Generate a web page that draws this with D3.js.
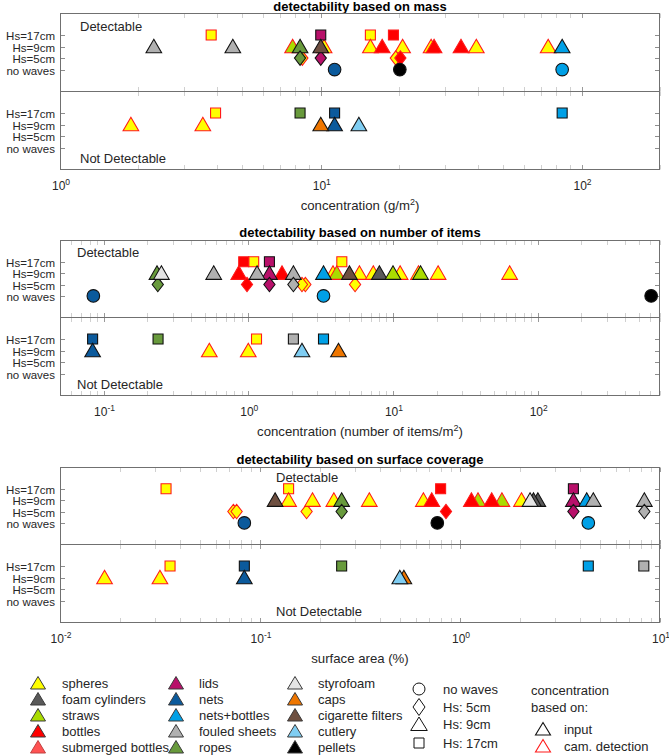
<!DOCTYPE html>
<html><head><meta charset="utf-8">
<script src="https://cdn.jsdelivr.net/npm/d3@7"></script>
<style>body{margin:0;background:#fff} svg{display:block;font-family:"Liberation Sans",Arial,Helvetica,sans-serif}</style>
</head><body><svg id="c" width="669" height="755"></svg>
<script>
// ---------- categories ----------
const materials = ["spheres","foam cylinders","straws","bottles","submerged bottles",
  "lids","nets","nets+bottles","fouled sheets","ropes",
  "styrofoam","caps","cigarette filters","cutlery","pellets"];
const materialColors = ["#ffff00","#595959","#aadc00","#ff0000","#ff5252",
  "#b8106a","#0b5a9c","#00a0e6","#b0b0b0","#689a3c",
  "#e4e4e4","#ee7600","#6e4f40","#7fcdf2","#000000"];
const waveTicks = ["no waves","Hs=5cm","Hs=9cm","Hs=17cm"];
const waveLegend = ["no waves","Hs: 5cm","Hs: 9cm","Hs: 17cm"];
const sourceLegend = ["input","cam. detection"];
const massTicks = [1,10,100];
const itemTicks = [0.1,1,10,100];
const areaTicks = [0.01,0.1,1,10];

// ---------- data: [material, wave level (0 none,1 5cm,2 9cm,3 17cm), value, source i=input c=camera] ----------
const massDetectable = [
 ["fouled sheets",2,2.29,"i"],["fouled sheets",2,4.60,"i"],["spheres",3,3.80,"c"],
 ["straws",2,7.8,"c"],["spheres",1,8.5,"c"],["ropes",2,8.33,"i"],["ropes",1,8.33,"i"],
 ["spheres",2,10.3,"c"],["lids",3,10,"i"],["cigarette filters",2,10,"i"],["lids",1,10,"i"],
 ["nets",0,11.3,"i"],["spheres",3,15.5,"c"],["spheres",2,15.5,"c"],["bottles",2,17.2,"c"],
 ["bottles",3,19.0,"c"],["spheres",2,20.6,"c"],["spheres",1,19.4,"c"],["bottles",1,20.2,"c"],
 ["pellets",0,20.1,"i"],["spheres",2,26.5,"c"],["bottles",2,27.2,"c"],["bottles",2,34.5,"c"],
 ["spheres",2,39.5,"c"],["spheres",2,74.5,"c"],["nets+bottles",2,84.3,"i"],["nets+bottles",0,84.3,"i"]
];
const massNotDetectable = [
 ["spheres",2,1.87,"c"],["spheres",2,3.53,"c"],["spheres",3,3.95,"c"],["ropes",3,8.33,"i"],
 ["caps",2,10,"i"],["nets",3,11.3,"i"],["nets",2,11.3,"i"],["cutlery",2,14.0,"i"],["nets+bottles",3,84.3,"i"]
];
const itemsDetectable = [
 ["nets",0,0.085,"i"],["ropes",2,0.234,"i"],["styrofoam",2,0.251,"i"],["ropes",1,0.237,"i"],
 ["fouled sheets",2,0.577,"i"],["bottles",3,0.93,"c"],["spheres",3,1.09,"c"],["bottles",2,0.86,"c"],
 ["bottles",1,0.98,"c"],["fouled sheets",2,1.15,"i"],["bottles",2,1.71,"c"],["lids",3,1.40,"i"],
 ["lids",2,1.40,"i"],["lids",1,1.40,"i"],["fouled sheets",2,2.05,"i"],["spheres",1,2.48,"c"],
 ["spheres",1,2.35,"c"],["fouled sheets",1,2.05,"i"],["nets+bottles",0,3.31,"i"],["nets+bottles",2,3.31,"i"],
 ["spheres",2,3.85,"c"],["straws",2,4.09,"c"],["spheres",3,4.43,"c"],["cigarette filters",2,5.0,"i"],
 ["spheres",1,5.47,"c"],["spheres",2,5.86,"c"],["spheres",2,7.31,"c"],["foam cylinders",2,8.05,"i"],
 ["straws",2,10.0,"i"],["spheres",2,11.2,"c"],["spheres",2,15.0,"c"],["straws",2,15.5,"i"],
 ["spheres",2,20.5,"c"],["spheres",2,64,"c"],["pellets",0,608,"i"]
];
const itemsNotDetectable = [
 ["nets",3,0.084,"i"],["nets",2,0.084,"i"],["ropes",3,0.238,"i"],["spheres",2,0.538,"c"],
 ["spheres",2,1.0,"c"],["spheres",3,1.14,"c"],["fouled sheets",3,2.05,"i"],["cutlery",2,2.35,"i"],
 ["nets+bottles",3,3.31,"i"],["caps",2,4.2,"i"]
];
const areaDetectable = [
 ["spheres",3,0.0339,"c"],["spheres",1,0.0736,"c"],["spheres",1,0.0764,"c"],["nets",0,0.0835,"i"],
 ["spheres",3,0.139,"c"],["spheres",2,0.139,"c"],["cigarette filters",2,0.119,"i"],["spheres",1,0.171,"c"],
 ["spheres",2,0.183,"c"],["spheres",2,0.234,"c"],["ropes",2,0.256,"i"],["ropes",1,0.256,"i"],
 ["spheres",2,0.352,"c"],["spheres",2,0.656,"c"],["bottles",2,0.722,"c"],["bottles",3,0.80,"c"],
 ["bottles",1,0.851,"c"],["pellets",0,0.77,"i"],["bottles",2,1.14,"c"],["straws",2,1.23,"c"],
 ["bottles",2,1.44,"c"],["straws",2,1.62,"c"],["spheres",2,2.03,"c"],["foam cylinders",2,2.45,"i"],
 ["foam cylinders",2,2.33,"i"],["styrofoam",2,2.24,"i"],["lids",3,3.69,"i"],["lids",2,3.69,"i"],
 ["lids",1,3.69,"i"],["nets+bottles",2,4.3,"i"],["fouled sheets",2,4.64,"i"],["nets+bottles",0,4.38,"i"],
 ["fouled sheets",2,8.35,"i"],["fouled sheets",1,8.35,"i"]
];
const areaNotDetectable = [
 ["spheres",2,0.0167,"c"],["spheres",2,0.0316,"c"],["spheres",3,0.0355,"c"],["nets",3,0.0835,"i"],
 ["nets",2,0.0835,"i"],["ropes",3,0.256,"i"],["caps",2,0.524,"i"],["cutlery",2,0.50,"i"],
 ["nets+bottles",3,4.38,"i"],["fouled sheets",3,8.3,"i"]
];

// ---------- layout ----------
const svg = d3.select("#c");
const X0 = 60, X1 = 660;
const AX = "#707070", TXT = "#262626";
const panels = [
 {title:"detectability based on mass", xlab:["concentration (g/m","2",")"], dom:[1,200], ticks:massTicks,
  top:13.5, mid:91.5, bot:169.5, det:massDetectable, nd:massNotDetectable, lx:80, dty:13, ty:11},
 {title:"detectability based on number of items", xlab:["concentration (number of items/m","2",")"], dom:[0.05,700], ticks:itemTicks,
  top:240.5, mid:317.5, bot:395.5, det:itemsDetectable, nd:itemsNotDetectable, lx:77, dty:12, ty:236.5},
 {title:"detectability based on surface coverage", xlab:["surface area (%)","",""], dom:[0.01,10], ticks:areaTicks,
  top:467.5, mid:544.5, bot:622.5, det:areaDetectable, nd:areaNotDetectable, lx:276, dty:9.5, ty:463.5}
];

const shapePaths = [
  d3.arc()({innerRadius:0,outerRadius:6.3,startAngle:0,endAngle:2*Math.PI}),
  "M0,-7.2L5.6,0L0,7.2L-5.6,0Z",
  "M0,-7.3L7.8,6.2L-7.8,6.2Z",
  "M-5,-5H5V5H-5Z"
];
const edgeColor = s => s === "c" ? "#ff1a1a" : "#111";
const colorOf = m => materialColors[materials.indexOf(m)];

function superLabel(sel, v){
  const e = Math.round(Math.log10(v));
  sel.append("tspan").text("10");
  sel.append("tspan").attr("dy",-5).attr("font-size",8.5).text(String(e));
}

panels.forEach(p => {
  const x = d3.scaleLog().domain(p.dom).range([X0, X1]);
  const g = svg.append("g");
  const halves = [[p.top,p.mid,p.det],[p.mid,p.bot,p.nd]];
  // title
  g.append("text").attr("x",360).attr("y",p.ty).attr("text-anchor","middle")
    .attr("font-weight","bold").attr("font-size",13).attr("fill","#000").text(p.title);

  // minor/major x ticks
  const lo = Math.floor(Math.log10(p.dom[0])), hi = Math.ceil(Math.log10(p.dom[1]));
  const minor = [];
  for (let d = lo; d <= hi; d++) for (let k = 1; k <= 9; k++) {
    const v = k*Math.pow(10,d);
    if (v >= p.dom[0]*0.999 && v <= p.dom[1]*1.001) minor.push(v);
  }
  halves.forEach(([t,b]) => {
    minor.forEach(v => {
      const xx = Math.round(x(v))+0.5, len = 4.5;
      const major = p.ticks.includes(v);
      [[t, t+len],[b, b-len]].forEach(([y1,y2]) =>
        g.append("line").attr("x1",xx).attr("x2",xx).attr("y1",y1).attr("y2",y2)
          .attr("stroke", major ? "#808080" : "#c4c4c4").attr("stroke-width",0.8));
    });
  });

  halves.forEach(([t,b,data], hi2) => {
    const y = d3.scaleLinear().domain([-1.9,4.87]).range([b,t]);
    // y ticks + labels
    waveTicks.forEach((lab,i) => {
      const yy = Math.round(y(i))+0.5;
      g.append("line").attr("x1",X0).attr("x2",X0+5).attr("y1",yy).attr("y2",yy).attr("stroke",AX).attr("stroke-width",0.8);
      g.append("line").attr("x1",X1-5).attr("x2",X1).attr("y1",yy).attr("y2",yy).attr("stroke",AX).attr("stroke-width",0.8);
      g.append("text").attr("x",55).attr("y",yy).attr("dy","0.35em").attr("text-anchor","end")
        .attr("font-size",11.5).attr("fill",TXT).text(lab);
    });
    // markers in legend (material) order
    const sorted = data.map((d,i)=>({d,i})).sort((a,b)=> (materials.indexOf(a.d[0])-materials.indexOf(b.d[0])) || (a.i-b.i)).map(o=>o.d);
    g.append("g").selectAll("path").data(sorted).join("path")
      .attr("d", d => shapePaths[d[1]])
      .attr("transform", d => `translate(${x(d[2])},${y(d[1])})`)
      .attr("fill", d => colorOf(d[0]))
      .attr("stroke", d => edgeColor(d[3]))
      .attr("stroke-width",1.1);
    // region labels
    if (hi2 === 0) g.append("text").attr("x",p.lx).attr("y",t+p.dty).attr("dy","0.35em").attr("font-size",13).attr("fill",TXT).text("Detectable");
    else g.append("text").attr("x",p.lx).attr("y",b-11).attr("dy","0.35em").attr("font-size",13).attr("fill",TXT).text("Not Detectable");
  });

  // box + middle line
  g.append("rect").attr("x",X0+0.5).attr("y",p.top).attr("width",X1-X0-1).attr("height",p.bot-p.top)
    .attr("fill","none").attr("stroke",AX).attr("stroke-width",1);
  g.append("line").attr("x1",X0).attr("x2",X1).attr("y1",p.mid).attr("y2",p.mid).attr("stroke",AX).attr("stroke-width",1);

  // x tick labels
  p.ticks.forEach(v => {
    const t = g.append("text").attr("x",x(v)+1).attr("y",p.bot+20.5).attr("text-anchor","middle")
      .attr("font-size",12).attr("fill",TXT);
    superLabel(t, v);
  });
  // x axis title
  const xt = g.append("text").attr("x",360).attr("y",p.bot+40).attr("text-anchor","middle").attr("font-size",13.2).attr("fill",TXT);
  xt.append("tspan").text(p.xlab[0]);
  if (p.xlab[1]) { xt.append("tspan").attr("dy",-5).attr("font-size",9).text(p.xlab[1]); xt.append("tspan").attr("dy",5).text(p.xlab[2]); }
});

// ---------- legend ----------
const lg = svg.append("g");
const triL = "M0,-6.5L7.5,6L-7.5,6Z";
const colX = [[38,62],[176,199],[295,318]];
materials.forEach((m,i) => {
  const c = Math.floor(i/5), r = i%5, yy = 683 + r*16;
  lg.append("path").attr("d",triL).attr("transform",`translate(${colX[c][0]},${yy})`)
    .attr("fill",materialColors[i]).attr("stroke",i===4?"#c04040":"#3a3a3a").attr("stroke-width",1);
  lg.append("text").attr("x",colX[c][1]).attr("y",yy).attr("dy","0.35em").attr("font-size",13).attr("fill",TXT).text(m);
});
const legShapes = [
  d3.arc()({innerRadius:0,outerRadius:6,startAngle:0,endAngle:2*Math.PI}),
  "M0,-8.5L6,0L0,8.5L-6,0Z",
  "M0,-7L8.3,6.5L-8.3,6.5Z",
  "M-5,-5H5V5H-5Z"];
const legWaveY = [689,707,724,743];
waveLegend.forEach((w,i) => {
  lg.append("path").attr("d",legShapes[i]).attr("transform",`translate(419,${legWaveY[i]})`)
    .attr("fill","none").attr("stroke","#111").attr("stroke-width",1);
  lg.append("text").attr("x",443).attr("y",legWaveY[i]).attr("dy","0.35em").attr("font-size",13).attr("fill",TXT).text(w);
});
lg.append("text").attr("x",531).attr("y",690).attr("dy","0.35em").attr("font-size",13).attr("fill",TXT).text("concentration");
lg.append("text").attr("x",531).attr("y",707).attr("dy","0.35em").attr("font-size",13).attr("fill",TXT).text("based on:");
sourceLegend.forEach((s,i) => {
  const yy = 729 + i*17;
  lg.append("path").attr("d","M0,-6.5L7.5,6L-7.5,6Z").attr("transform",`translate(543,${yy})`)
    .attr("fill","none").attr("stroke", i===0 ? "#111" : "#ff1a1a").attr("stroke-width",1.1);
  lg.append("text").attr("x",564).attr("y",yy).attr("dy","0.35em").attr("font-size",13).attr("fill",TXT).text(s);
});
</script></body></html>
